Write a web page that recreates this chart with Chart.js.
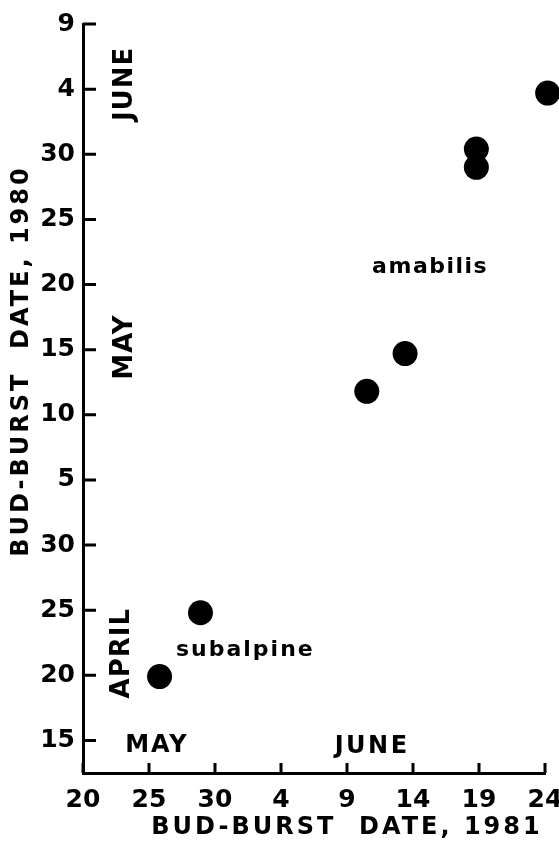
<!DOCTYPE html>
<html lang="en">
<head>
    <meta charset="UTF-8">
    <title>Bud-burst dates 1980 vs 1981</title>
    <script src="https://cdn.jsdelivr.net/npm/chart.js"></script>
    <style>
        body {
            margin: 0;
            padding: 0;
            background-color: #ffffff;
        }
        #budChart {
            display: block;
        }
    </style>
</head>
<body>
    <canvas id="budChart" width="559" height="849"></canvas>

    <script>
        // x = days after 20 May 1981, y = days after 15 April 1980
        const subalpineX = [5.8, 8.9];
        const subalpineY = [4.9, 9.8];
        const amabilisX = [21.5, 24.4, 29.8, 29.8, 35.2];
        const amabilisY = [26.8, 29.7, 45.4, 44.0, 49.7];

        const xTickValues = [0, 5, 10, 15, 20, 25, 30, 35];
        const xTickLabels = ['20', '25', '30', '4', '9', '14', '19', '24'];
        const yTickValues = [0, 5, 10, 15, 20, 25, 30, 35, 40, 45, 50, 55];
        const yTickLabels = ['15', '20', '25', '30', '5', '10', '15', '20', '25', '30', '4', '9'];

        const FONT = '"DejaVu Sans", sans-serif';

        function toPoints(xs, ys) {
            return xs.map((x, i) => ({ x: x, y: ys[i] }));
        }

        // tick marks point into the plot, and free-standing labels
        const decorations = {
            id: 'decorations',
            afterDraw(chart) {
                const ctx = chart.ctx;
                const xs = chart.scales.x;
                const ys = chart.scales.y;
                const area = chart.chartArea;

                ctx.save();
                ctx.strokeStyle = '#000';
                ctx.lineWidth = 3;
                ctx.lineCap = 'butt';
                ctx.beginPath();
                ys.ticks.forEach(t => {
                    const py = ys.getPixelForValue(t.value);
                    ctx.moveTo(area.left, py);
                    ctx.lineTo(area.left + 13, py);
                });
                xs.ticks.forEach(t => {
                    const px = xs.getPixelForValue(t.value);
                    ctx.moveTo(px, area.bottom);
                    ctx.lineTo(px, area.bottom - 10);
                });
                ctx.stroke();

                ctx.fillStyle = '#000';
                ctx.textAlign = 'center';
                ctx.textBaseline = 'middle';

                function text(str, vx, vy, size, rotate, spacing) {
                    const px = xs.getPixelForValue(vx);
                    const py = ys.getPixelForValue(vy);
                    ctx.save();
                    ctx.translate(px, py);
                    if (rotate) ctx.rotate(-Math.PI / 2);
                    ctx.font = 'bold ' + size + 'px ' + FONT;
                    ctx.letterSpacing = (spacing || 0) + 'px';
                    ctx.fillText(str, 0, 0);
                    ctx.restore();
                }

                text('amabilis', 26.3, 36.3, 22, false, 1.5);
                text('subalpine', 12.3, 6.9, 22, false, 2);
                text('JUNE', 3.2, 50.4, 26, true, 1);
                text('MAY', 3.2, 30.2, 26, true, 1);
                text('APRIL', 2.95, 6.7, 26, true, 1);
                text('MAY', 5.6, -0.4, 24, false, 2);
                text('JUNE', 21.9, -0.5, 24, false, 2.5);

                // axis titles
                ctx.font = 'bold 24px ' + FONT;
                ctx.letterSpacing = '3px';
                ctx.fillText('BUD-BURST  DATE, 1981', 347, 828);
                ctx.save();
                ctx.translate(22, 361);
                ctx.rotate(-Math.PI / 2);
                ctx.fillText('BUD-BURST  DATE, 1980', 0, 0);
                ctx.restore();

                ctx.restore();
            }
        };

        new Chart(document.getElementById('budChart'), {
            type: 'scatter',
            data: {
                datasets: [
                    {
                        label: 'subalpine',
                        data: toPoints(subalpineX, subalpineY),
                        backgroundColor: '#000',
                        borderWidth: 0,
                        pointRadius: 12.5,
                        clip: false
                    },
                    {
                        label: 'amabilis',
                        data: toPoints(amabilisX, amabilisY),
                        backgroundColor: '#000',
                        borderWidth: 0,
                        pointRadius: 12.5,
                        clip: false
                    }
                ]
            },
            options: {
                responsive: false,
                animation: false,
                events: [],
                layout: {
                    padding: { top: 24, right: 0, left: 0, bottom: 0 }
                },
                plugins: {
                    legend: { display: false },
                    tooltip: { enabled: false }
                },
                scales: {
                    x: {
                        type: 'linear',
                        min: 0,
                        max: 35,
                        afterFit(scale) {
                            scale.height = 76;
                            scale.paddingRight = 14;
                        },
                        afterBuildTicks(scale) {
                            scale.ticks = xTickValues.map(v => ({ value: v }));
                        },
                        grid: { display: true, drawOnChartArea: false, drawTicks: false },
                        border: { display: true, color: '#000', width: 3 },
                        ticks: {
                            padding: 12,
                            color: '#000',
                            font: { family: FONT, size: 25, weight: 'bold' },
                            callback: (v) => xTickLabels[xTickValues.indexOf(v)]
                        }
                    },
                    y: {
                        type: 'linear',
                        min: -2.5,
                        max: 55,
                        afterFit(scale) { scale.width = 83; },
                        afterBuildTicks(scale) {
                            scale.ticks = yTickValues.map(v => ({ value: v }));
                        },
                        grid: { display: true, drawOnChartArea: false, drawTicks: false },
                        border: { display: true, color: '#000', width: 3 },
                        ticks: {
                            padding: 8,
                            color: '#000',
                            font: { family: FONT, size: 25, weight: 'bold' },
                            callback: (v) => yTickLabels[yTickValues.indexOf(v)]
                        }
                    }
                }
            },
            plugins: [decorations]
        });
    </script>
</body>
</html>
